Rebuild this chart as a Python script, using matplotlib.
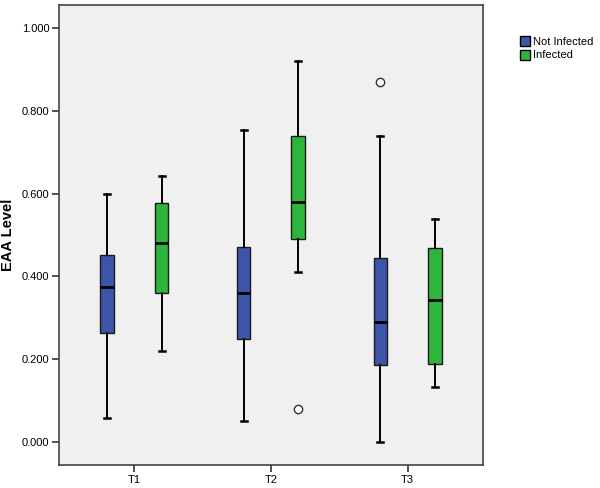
import matplotlib
matplotlib.use("Agg")
import matplotlib.pyplot as plt
from matplotlib.patches import Patch

categories = ["T1", "T2", "T3"]
groups = ["Not Infected", "Infected"]
colors = ["#3c55a8", "#2db53d"]

# stats per group per category: (whislo, q1, med, q3, whishi)
not_infected = [
    (0.057, 0.264, 0.375, 0.451, 0.600),
    (0.050, 0.248, 0.359, 0.470, 0.753),
    (0.000, 0.185, 0.290, 0.445, 0.739),
]
infected = [
    (0.219, 0.361, 0.480, 0.578, 0.643),
    (0.410, 0.490, 0.580, 0.740, 0.920),
    (0.132, 0.187, 0.344, 0.468, 0.539),
]
outliers_not_infected = [[], [], [0.869]]
outliers_infected = [[], [0.079], []]

plt.rcParams['font.family'] = ['Liberation Sans', 'DejaVu Sans']

fig = plt.figure(figsize=(6, 4.88), dpi=100)
ax = fig.add_axes([0.0983, 0.0471, 0.7067, 0.9427])
ax.set_facecolor("#f0f0f0")

offsets = [-0.2, 0.2]
for gi, (data, outl) in enumerate([(not_infected, outliers_not_infected),
                                   (infected, outliers_infected)]):
    stats = []
    for (lo, q1, med, q3, hi), fl in zip(data, outl):
        stats.append(dict(whislo=lo, q1=q1, med=med, q3=q3, whishi=hi, fliers=fl))
    pos = [i + 1 + offsets[gi] for i in range(len(categories))]
    ax.bxp(stats, positions=pos, widths=0.1, patch_artist=True, showfliers=True,
           boxprops=dict(facecolor=colors[gi], edgecolor="#1a1a1a", linewidth=1.0),
           medianprops=dict(color="black", linewidth=2.0),
           whiskerprops=dict(color="black", linewidth=1.4),
           capprops=dict(color="black", linewidth=1.8),
           capwidths=0.045,
           flierprops=dict(marker="o", markerfacecolor="white", markeredgecolor="#333333",
                           markersize=6, markeredgewidth=1.0))

ax.set_xlim(0.449, 3.551)
ax.set_ylim(-0.056, 1.056)
ax.set_xticks([1, 2, 3])
ax.set_xticklabels(categories, fontsize=8)
yt = [0.0, 0.2, 0.4, 0.6, 0.8, 1.0]
ax.set_yticks(yt)
ax.set_yticklabels([f"{v:.3f}" for v in yt], fontsize=8)
ax.tick_params(axis="both", length=5, width=1.2, color="#333333", pad=2)
ax.set_ylabel("EAA Level", fontsize=10.5, fontweight="bold")
ax.yaxis.set_label_coords(-0.104, 0.5)
for s in ax.spines.values():
    s.set_color("#444444")
    s.set_linewidth(1.2)

handles = [Patch(facecolor=c, edgecolor="black", label=g) for c, g in zip(colors, groups)]
fig.legend(handles=handles, loc="upper left", bbox_to_anchor=(0.86, 0.935),
           frameon=False, fontsize=8, handlelength=0.9, handleheight=1.0,
           handletextpad=0.2, borderaxespad=0, labelspacing=0.25)

fig.savefig("out.png", dpi=100)
